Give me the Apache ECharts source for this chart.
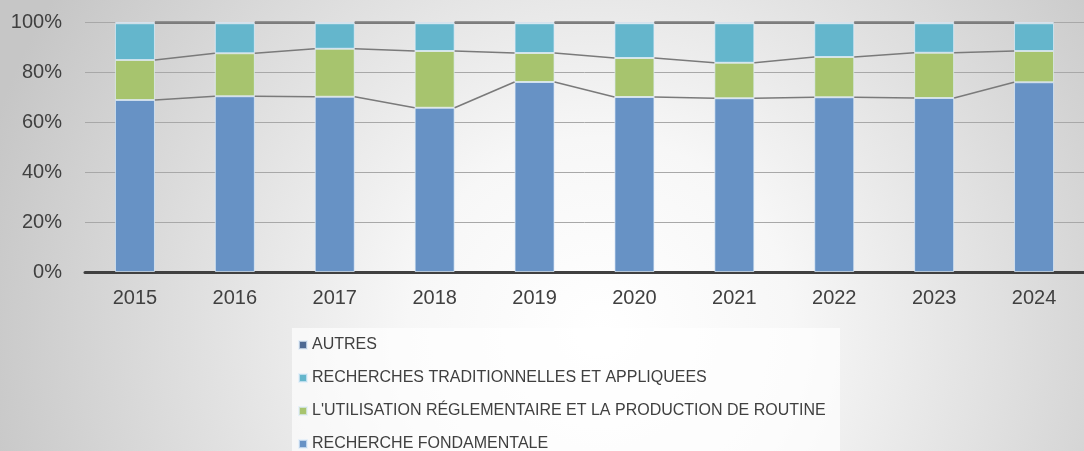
<!DOCTYPE html>
<html>
<head>
<meta charset="utf-8">
<script src="https://cdn.jsdelivr.net/npm/echarts@6/dist/echarts.min.js"></script>
<style>
html,body{margin:0;padding:0;}
#chart{width:1084px;height:451px;}
</style>
</head>
<body>
<div id="chart"></div>
<script>
const years = ['2015','2016','2017','2018','2019','2020','2021','2022','2023','2024'];
const fondamentale = [68.8, 70.3, 70.1, 65.7, 76.0, 70.0, 69.5, 69.9, 69.6, 75.9];
const reglementaire = [16.0, 17.2, 19.2, 22.7, 11.6, 15.6, 14.2, 16.1, 18.1, 12.5];
const traditionnelles = [14.7, 12.0, 10.2, 11.1, 11.9, 13.9, 15.8, 13.5, 11.8, 11.1];
const autres = [0.5, 0.5, 0.5, 0.5, 0.5, 0.5, 0.5, 0.5, 0.5, 0.5];
const yTicks = [0, 20, 40, 60, 80, 100];

const names = {
  f: 'RECHERCHE FONDAMENTALE',
  r: "L'UTILISATION RÉGLEMENTAIRE ET LA PRODUCTION DE ROUTINE",
  t: 'RECHERCHES TRADITIONNELLES ET APPLIQUEES',
  a: 'AUTRES'
};
const colors = { f: '#6792c5', r: '#a7c46e', t: '#64b6cc', a: '#4d6a94' };

const stackOrder = [fondamentale, reglementaire, traditionnelles, autres];
const cumulative = [];
let run = years.map(() => 0);
stackOrder.forEach(arr => {
  run = run.map((v, i) => v + arr[i]);
  cumulative.push(run.slice());
});
const lineData = [];
cumulative.forEach(c => {
  for (let i = 0; i < years.length - 1; i++) lineData.push([i, c[i], c[i + 1]]);
});

const BAR_W = 40;
const barStyle = c => ({ color: c, borderColor: 'rgba(225,238,250,0.7)', borderWidth: 1 });

const chart = echarts.init(document.getElementById('chart'));
chart.setOption({
  backgroundColor: {
    type: 'radial', x: 600, y: 330, r: 640, global: true,
    colorStops: [
      { offset: 0, color: '#ffffff' },
      { offset: 0.3, color: '#f7f7f7' },
      { offset: 1, color: '#c6c6c6' }
    ]
  },
  animation: false,
  textStyle: { fontFamily: '"Liberation Sans", Arial, sans-serif' },
  graphic: [{
    type: 'rect', left: 292, top: 328, shape: { width: 548, height: 125 },
    style: { fill: 'rgba(255,255,255,0.65)' }, z: -1
  }],
  grid: { left: 85, right: -11, top: 22, bottom: 179 },
  legend: {
    orient: 'vertical', left: 298, top: 336, height: 200, padding: 0,
    itemWidth: 8, itemHeight: 8, itemGap: 15, icon: 'rect',
    data: [names.a, names.t, names.r, names.f],
    textStyle: { fontSize: 16, color: '#404040', lineHeight: 18, fontFamily: '"Liberation Sans", Arial, sans-serif' }
  },
  xAxis: {
    type: 'category', data: years,
    axisLine: { lineStyle: { color: '#404040', width: 3 } },
    axisTick: { show: false },
    axisLabel: { fontSize: 20, color: '#404040', margin: 16 }
  },
  yAxis: {
    type: 'value', min: yTicks[0], max: yTicks[yTicks.length - 1], interval: 20,
    axisLine: { show: false }, axisTick: { show: false },
    axisLabel: { fontSize: 20, color: '#404040', margin: 23, formatter: '{value}%' },
    splitLine: { lineStyle: { color: '#a8a8a8', width: 1 } }
  },
  series: [
    { name: names.f, type: 'bar', stack: 's', barWidth: BAR_W, data: fondamentale, itemStyle: barStyle(colors.f) },
    { name: names.r, type: 'bar', stack: 's', barWidth: BAR_W, data: reglementaire, itemStyle: barStyle(colors.r) },
    { name: names.t, type: 'bar', stack: 's', barWidth: BAR_W, data: traditionnelles, itemStyle: barStyle(colors.t) },
    { name: names.a, type: 'bar', stack: 's', barWidth: BAR_W, data: autres, itemStyle: barStyle(colors.a) },
    {
      type: 'custom', name: 'lines', z: 5, silent: true,
      data: lineData,
      encode: { x: 0, y: [1, 2] },
      renderItem: function (params, api) {
        const i = api.value(0);
        const p1 = api.coord([i, api.value(1)]);
        const p2 = api.coord([i + 1, api.value(2)]);
        return {
          type: 'line',
          shape: { x1: p1[0] + BAR_W / 2, y1: p1[1], x2: p2[0] - BAR_W / 2, y2: p2[1] },
          style: { stroke: '#7a7a7a', lineWidth: 1.6 }
        };
      }
    }
  ]
});
</script>
</body>
</html>
